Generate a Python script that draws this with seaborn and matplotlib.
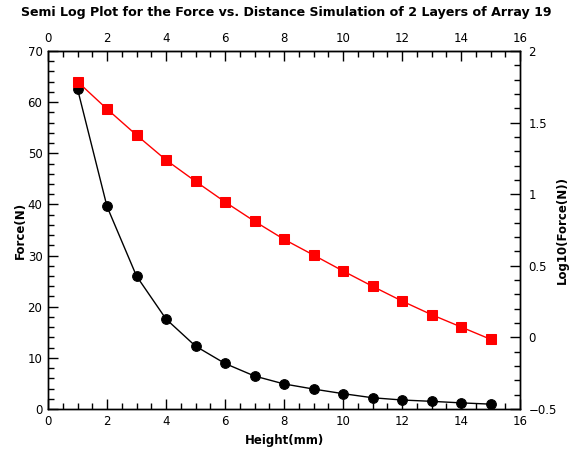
import matplotlib
matplotlib.use("Agg")
import matplotlib.pyplot as plt
from matplotlib.ticker import MultipleLocator
import seaborn as sns
import pandas as pd

height_mm = [1, 2, 3, 4, 5, 6, 7, 8, 9, 10, 11, 12, 13, 14, 15]
force_n = [62.6, 39.6, 26.0, 17.6, 12.3, 8.9, 6.45, 4.9, 3.9, 3.0, 2.2, 1.76, 1.5, 1.2, 0.95]
log10_force = [1.786, 1.595, 1.413, 1.239, 1.090, 0.946, 0.811, 0.685, 0.575,
               0.464, 0.357, 0.254, 0.159, 0.073, -0.013]

title = "Semi Log Plot for the Force vs. Distance Simulation of 2 Layers of Array 19"
xlabel = "Height(mm)"
ylabel_left = "Force(N)"
ylabel_right = "Log10(Force(N))"

df = pd.DataFrame({"Height": height_mm, "Force": force_n, "LogForce": log10_force})

sns.set_style("ticks")
plt.rcParams["font.family"] = ["DejaVu Sans"]
plt.rcParams["text.color"] = "black"
plt.rcParams["axes.labelcolor"] = "black"
plt.rcParams["xtick.color"] = "black"
plt.rcParams["ytick.color"] = "black"

fig = plt.figure(figsize=(5.73, 4.54), dpi=100)
ax = fig.add_axes([48/573, (454-409)/454, (520-48)/573, (409-51)/454])

sns.lineplot(data=df, x="Height", y="Force", ax=ax, color="black", lw=1.0,
             marker="o", markersize=7, markeredgecolor="black", markerfacecolor="black")
ax.set_xlim(0, 16)
ax.set_ylim(0, 70)
ax.xaxis.set_major_locator(MultipleLocator(2))
ax.xaxis.set_minor_locator(MultipleLocator(0.5))
ax.yaxis.set_major_locator(MultipleLocator(10))
ax.yaxis.set_minor_locator(MultipleLocator(2))
ax.set_xlabel(xlabel, fontsize=8.5, fontweight="bold")
ax.set_ylabel(ylabel_left, fontsize=8.5, fontweight="bold")
ax.xaxis.set_label_coords(0.5, -0.07)
ax.yaxis.set_label_coords(-0.045, 0.5)

ax2 = ax.twinx()
sns.lineplot(data=df, x="Height", y="LogForce", ax=ax2, color="#ff0000", lw=1.0,
             marker="s", markersize=7, markeredgecolor="#ff0000", markerfacecolor="#ff0000")
ax2.set_ylim(-0.5, 2)
ax2.set_yticks([-0.5, 0, 0.5, 1, 1.5, 2])
ax2.set_yticklabels(["\u22120.5", "0", "0.5", "1", "1.5", "2"])
ax2.yaxis.set_minor_locator(MultipleLocator(0.1))
ax2.set_ylabel(ylabel_right, fontsize=8.5, fontweight="bold")
ax2.yaxis.set_label_coords(1.077, 0.5)

top = ax.secondary_xaxis("top")
top.xaxis.set_major_locator(MultipleLocator(2))
top.xaxis.set_minor_locator(MultipleLocator(0.5))

for a in (ax, ax2):
    for s in a.spines.values():
        s.set_visible(True)
        s.set_linewidth(1.0)
        s.set_color("black")
ax.tick_params(which="major", direction="in", length=7, width=1, labelsize=8.5, pad=4)
ax.tick_params(which="minor", direction="in", length=4, width=1)
ax.tick_params(axis="y", which="both", right=False)
ax2.tick_params(which="major", direction="in", length=7, width=1, labelsize=8.5, pad=6)
ax2.tick_params(which="minor", direction="in", length=4, width=1)
top.tick_params(which="major", direction="in", length=7, width=1, labelsize=8.5, pad=4)
top.tick_params(which="minor", direction="in", length=4, width=1)

fig.text(0.5, 0.972, title, ha="center", va="center", fontsize=9.1, fontweight="bold")

fig.savefig("out.png", dpi=100)
